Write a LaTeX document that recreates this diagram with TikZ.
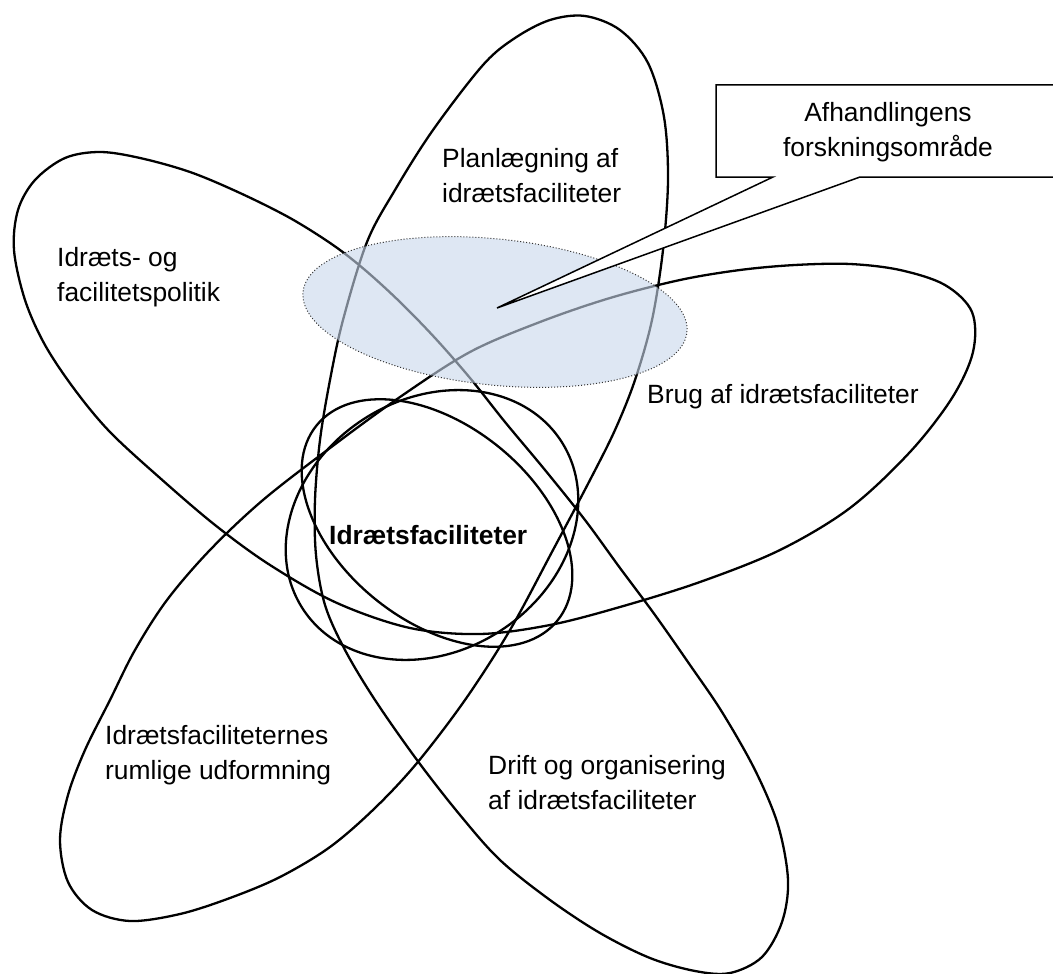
\documentclass[tikz,border=0pt]{standalone}
\usepackage{fontspec}
\setmainfont{Liberation Sans}
\usetikzlibrary{shapes.geometric}
\definecolor{shade}{RGB}{200,215,235}
\begin{document}
\begin{tikzpicture}[x=1pt,y=-1pt,
  bigline/.style={line width=2.3pt, black},
  smallline/.style={line width=2.3pt, black},
  lbl/.style={font=\fontsize{26.4}{35}\selectfont, inner sep=0pt, align=left, anchor=base west},
  callout/.style={line width=1.5pt, black, fill=white}]
\useasboundingbox (0,0) rectangle (1053,974);
\clip (0,0) rectangle (1053,974);
% five-petal outline
\draw[bigline] plot[smooth cycle, tension=0.55] coordinates {
 (14,250) (25,300) (45,345) (75,390) (110,432) (160,478) (215,525) (270,565)
 (337,603) (410,628) (480,634) (550,625) (620,607) (700,582) (780,550) (850,508)
 (910,452) (952,398) (973,352)
 (972,312) (945,285) (900,270) (850,264) (795,265) (740,270)
 (680,280) (610,298) (540,322) (470,352) (400,397) (330,448) (263,500) (210,550)
 (167,600) (135,650) (110,700) (85,750) (68,795) (60,840) (68,882) (92,910)
 (130,921) (180,914) (230,898) (280,877) (330,847) (375,808)
 (417,763) (465,700) (510,630) (553,550) (590,480)
 (615,430) (635,380) (652,320) (663,250) (668,180) (664,117) (648,63) (620,30)
 (585,16)
 (550,20) (515,38) (483,65) (433,130) (395,190) (367,242) (343,320) (330,380)
 (320,440) (315,500) (316,555) (325,605) (345,650) (375,700) (417,760) (460,815)
 (500,860) (550,900) (600,933) (650,958) (695,971)
 (730,973) (762,957) (782,922) (788,880)
 (778,825) (755,770) (722,712) (690,665) (655,615) (620,568) (585,520) (545,470)
 (505,422) (470,378) (435,338) (400,302) (365,270) (333,245) (290,218) (240,193)
 (190,172) (140,158) (100,152) (65,158) (35,180) (18,210)};
% central small ellipses
\draw[smallline, shift={(432,525)}, rotate=33] (0,0) ellipse [x radius=154pt, y radius=126pt];
\draw[smallline, shift={(437,523)}, rotate=-39] (0,0) ellipse [x radius=155pt, y radius=98pt];
% research area
\node[draw=black!80, dotted, line width=1pt, fill=shade, fill opacity=0.6, ellipse, minimum width=386pt, minimum height=146pt, inner sep=0pt, rotate=-6] (area) at (495,312) {};
% callout
\coordinate (tip) at (497,308);
\draw[callout] (716,85) -- (1060,85) -- (1060,177) -- (860,177) -- (tip) -- (773,177) -- (716,177) -- cycle;
\node[font=\fontsize{26.4}{35}\selectfont, align=center, inner sep=0pt, anchor=base] (afh) at (888,156) {Afhandlingens\\forskningsområde};
% labels
\node[lbl] (plan) at (442,202) {Planlægning af\\idrætsfaciliteter};
\node[lbl] (pol) at (57,301) {Idræts- og\\facilitetspolitik};
\node[lbl] (brug) at (647,403) {Brug af idrætsfaciliteter};
\node[lbl] (rum) at (105,779) {Idrætsfaciliteternes\\rumlige udformning};
\node[lbl] (drift) at (488,809) {Drift og organisering\\af idrætsfaciliteter};
\node[lbl, font=\fontsize{26.4}{35}\selectfont\bfseries] (ctr) at (329,544) {Idrætsfaciliteter};
\end{tikzpicture}
\end{document}
